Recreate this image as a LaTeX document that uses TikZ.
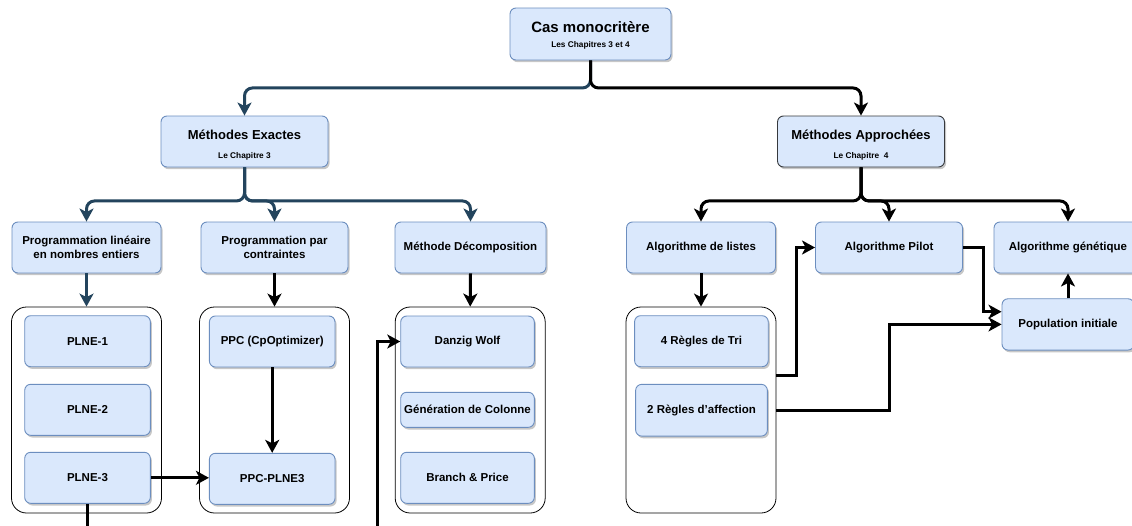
\documentclass[tikz,border=0pt]{standalone}
\usepackage{fontspec}
\setmainfont{Liberation Sans}
\usetikzlibrary{arrows.meta,shadows}
\definecolor{boxfill}{HTML}{DAE8FC}
\definecolor{boxline}{HTML}{6C8EBF}
\definecolor{navy}{HTML}{23445D}
\definecolor{darkline}{HTML}{36393D}

\begin{document}
\begin{tikzpicture}[x=1pt,y=-1pt,
  box/.style={draw=boxline, fill=boxfill, line width=0.9pt, rounded corners=6pt,
    inner sep=0pt, align=center, font=\bfseries\fontsize{11.5}{14}\selectfont,
    drop shadow={shadow xshift=1.6pt, shadow yshift=-2.2pt, opacity=0.22, fill=black}},
  group/.style={draw=black, line width=0.8pt, fill=white, rounded corners=15pt, inner sep=0pt},
  ttl/.style={font=\bfseries\fontsize{13}{15}\selectfont, inner sep=0pt, anchor=base},
  sub/.style={font=\bfseries\fontsize{8.3}{10}\selectfont, inner sep=0pt, anchor=base},
  tip/.style={-{Stealth[length=13pt,width=14pt,inset=3.5pt]}},
  link/.style={line width=3pt, draw=black, tip},
  bluelink/.style={line width=3pt, draw=navy, tip},
  tree/.style={rounded corners=8pt},
  trail/.style={line width=3pt, draw=black},
]
\useasboundingbox (0,0) rectangle (1132,525);
\fill[white] (0,0) rectangle (1132,525);
\clip (0,0) rectangle (1132,525);

% top level
\node[box, minimum width=161pt, minimum height=52pt] (cas) at (590.5,34) {};
\node[ttl, font=\bfseries\fontsize{15}{17}\selectfont] (casT) at (590.5,32) {Cas monocritère};
\node[sub] (casS) at (590.5,47.3) {Les Chapitres 3 et 4};

\node[box, minimum width=167pt, minimum height=51pt] (me) at (244.5,141.5) {};
\node[ttl] (meT) at (244.5,139.3) {Méthodes Exactes};
\node[sub] (meS) at (244.5,158.7) {Le Chapitre 3};

\node[box, draw=darkline, minimum width=167pt, minimum height=51pt] (ma) at (861,141.5) {};
\node[ttl] (maT) at (861,139.3) {Méthodes Approchées};
\node[sub] (maS) at (861,158.7) {Le Chapitre\ \ 4};

% second level
\node[box, minimum width=149pt, minimum height=51pt] (plne) at (86.5,247.5) {Programmation linéaire\\en nombres entiers};
\node[box, minimum width=147pt, minimum height=51pt] (ppc) at (274.5,247.5) {Programmation par\\contraintes};
\node[box, minimum width=151pt, minimum height=51pt] (dec) at (470.5,247.5) {Méthode Décomposition};
\node[box, minimum width=149pt, minimum height=51pt] (lst) at (701,247.5) {Algorithme de listes};
\node[box, minimum width=147pt, minimum height=51pt] (pil) at (889,247.5) {Algorithme Pilot};
\node[box, minimum width=148pt, minimum height=51pt] (gen) at (1068,247.5) {Algorithme génétique};

% groups
\node[group, minimum width=150pt, minimum height=206pt] (g1) at (86.5,410) {};
\node[group, minimum width=150pt, minimum height=206pt] (g2) at (274.5,410) {};
\node[group, minimum width=150pt, minimum height=206pt] (g3) at (470.2,410) {};
\node[group, minimum width=150pt, minimum height=206pt] (g4) at (701,410) {};

% group contents
\node[box, minimum width=125.6pt, minimum height=51pt] (p1) at (87.5,341.2) {PLNE-1};
\node[box, minimum width=125.6pt, minimum height=51pt] (p2) at (87.5,409.8) {PLNE-2};
\node[box, minimum width=125.6pt, minimum height=51pt] (p3) at (87.5,477.8) {PLNE-3};

\node[box, minimum width=125.6pt, minimum height=51pt] (cp1) at (272.2,341.5) {PPC (CpOptimizer)};
\node[box, minimum width=125.6pt, minimum height=51pt] (cp3) at (272.2,478.8) {PPC-PLNE3};

\node[box, minimum width=133.6pt, minimum height=51pt] (dw) at (467.5,341.5) {Danzig Wolf};
\node[box, minimum width=133.6pt, minimum height=35pt] (gc) at (467.5,409.8) {Génération de Colonne};
\node[box, minimum width=133.6pt, minimum height=51pt] (bp) at (467.5,477.8) {Branch \& Price};

\node[box, minimum width=133.6pt, minimum height=51pt] (r4) at (701.4,341.2) {4 Règles de Tri};
\node[box, minimum width=131.7pt, minimum height=51.7pt] (r2) at (701.5,410.2) {2 Règles d'affection};

\node[box, minimum width=132pt, minimum height=51.3pt] (pop) at (1068,324.4) {Population initiale};

% free ends leaving the bottom edge
\coordinate (out1) at (87.5,535);
\coordinate (in2) at (377.3,535);

% tree connectors
\draw[bluelink, tree] (cas.south) -- ++(0,27.5) -| (me.north);
\draw[link, tree] (cas.south) -- ++(0,27.5) -| (ma.north);
\foreach \t in {plne,ppc,dec}
  \draw[bluelink, tree] (me.south) -- ++(0,33.5) -| (\t.north);
\foreach \t in {lst,pil,gen}
  \draw[link, tree] (ma.south) -- ++(0,33.5) -| (\t.north);

\draw[bluelink] (plne.south) -- (g1.north);
\draw[link] (ppc.south) -- (g2.north);
\draw[link] (dec.south) -- (g3.north);
\draw[link] (lst.south) -- (g4.north);

% cross links
\draw[link] (cp1.south) -- (cp3.north);
\draw[link] (p3.east) -- (p3.east -| cp3.west);
\draw[trail] (p3.south) -- (out1);
\draw[link] (in2) |- (dw.west);

\draw[link] ([yshift=35pt]g4.east) -- ++(20.3,0) |- (pil.west);
\draw[link] (g4.east) -- ++(113,0) |- (pop.west);
\draw[link] (pil.east) -- ++(20.6,0) |- ([yshift=12.7pt]pop.west);
\draw[link] (pop.north) -- (gen.south);
\end{tikzpicture}
\end{document}
